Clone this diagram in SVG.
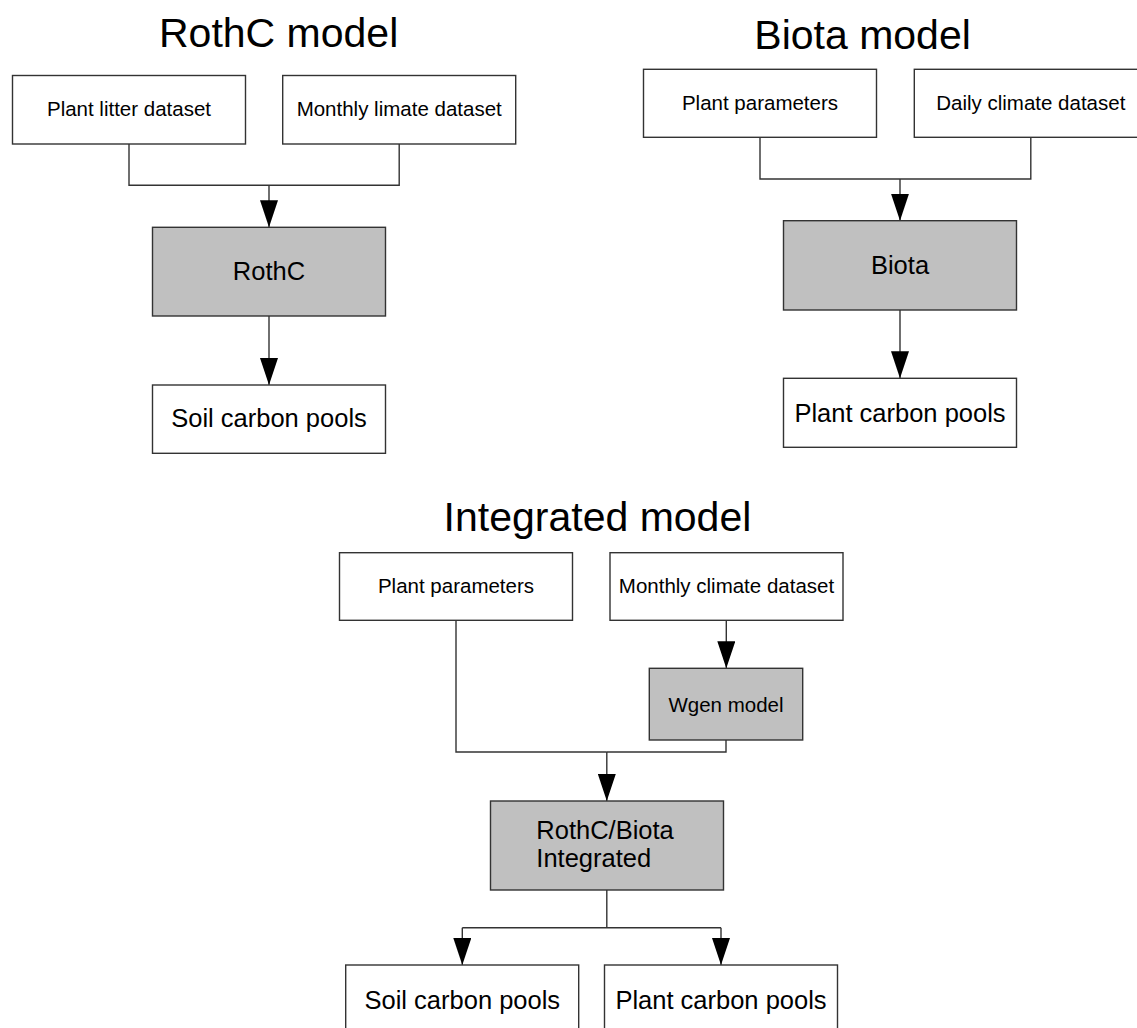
<svg xmlns="http://www.w3.org/2000/svg" width="1137" height="1028" viewBox="0 0 1137 1028">
<defs>
<style>
.box{fill:#ffffff;stroke:#333333;stroke-width:1.4}
.proc{fill:#c0c0c0;stroke:#333333;stroke-width:1.4}
.ln{fill:none;stroke:#333333;stroke-width:1.4}
.title{font-family:"Liberation Sans",Arial,sans-serif;font-size:41px;fill:#000}
.sm{font-family:"Liberation Sans",Arial,sans-serif;font-size:20.5px;fill:#000;text-anchor:middle}
.lg{font-family:"Liberation Sans",Arial,sans-serif;font-size:25.5px;fill:#000;text-anchor:middle}
.lgl{font-family:"Liberation Sans",Arial,sans-serif;font-size:25.5px;fill:#000}
</style>
<marker id="arr" markerUnits="userSpaceOnUse" markerWidth="27" markerHeight="18" refX="27" refY="9" orient="auto" viewBox="0 0 27 18">
<path d="M0,0 L27,9 L0,18 Z" fill="#000"/>
</marker>
</defs>
<rect width="1137" height="1028" fill="#ffffff"/>

<g id="titles">
<text class="title" x="159" y="46.7">RothC model</text>
<text class="title" x="754.3" y="49.3">Biota model</text>
<text class="title" x="443.6" y="531">Integrated model</text>
</g>

<g id="connectors">
<polyline class="ln" points="129,144 129,185.3 399.2,185.3 399.2,144"/>
<line class="ln" x1="269" y1="185.3" x2="269" y2="227.3" marker-end="url(#arr)"/>
<line class="ln" x1="269" y1="316" x2="269" y2="385" marker-end="url(#arr)"/>

<polyline class="ln" points="760,137.3 760,179 1030.8,179 1030.8,137.3"/>
<line class="ln" x1="900" y1="179" x2="900" y2="220.7" marker-end="url(#arr)"/>
<line class="ln" x1="900" y1="310" x2="900" y2="378.3" marker-end="url(#arr)"/>

<line class="ln" x1="726.3" y1="620.3" x2="726.3" y2="668.3" marker-end="url(#arr)"/>
<polyline class="ln" points="456,620.3 456,752 606.8,752"/>
<polyline class="ln" points="726,740 726,752 606.8,752"/>
<line class="ln" x1="606.8" y1="752" x2="606.8" y2="801" marker-end="url(#arr)"/>
<line class="ln" x1="606.8" y1="890" x2="606.8" y2="927.7"/>
<line class="ln" x1="462.3" y1="927.7" x2="721" y2="927.7"/>
<line class="ln" x1="462.3" y1="927.7" x2="462.3" y2="965" marker-end="url(#arr)"/>
<line class="ln" x1="721" y1="927.7" x2="721" y2="965" marker-end="url(#arr)"/>
</g>

<g id="rothc-plant-litter">
<rect class="box" x="12.5" y="75.5" width="233" height="68.5"/>
<text class="sm" x="129" y="115.7">Plant litter dataset</text>
</g>
<g id="rothc-monthly">
<rect class="box" x="282.7" y="75.5" width="233" height="68.5"/>
<text class="sm" x="399.2" y="115.7">Monthly limate dataset</text>
</g>
<g id="rothc">
<rect class="proc" x="152.5" y="227.3" width="233" height="88.7"/>
<text class="lg" x="269" y="280">RothC</text>
</g>
<g id="rothc-soil">
<rect class="box" x="152.5" y="385" width="233" height="68.3"/>
<text class="lg" x="269" y="427.3">Soil carbon pools</text>
</g>

<g id="biota-plant-params">
<rect class="box" x="643.5" y="69.3" width="233" height="68"/>
<text class="sm" x="760" y="110">Plant parameters</text>
</g>
<g id="biota-daily">
<rect class="box" x="914.3" y="69.3" width="233" height="68"/>
<text class="sm" x="1030.8" y="110">Daily climate dataset</text>
</g>
<g id="biota">
<rect class="proc" x="783.5" y="220.7" width="233" height="89.3"/>
<text class="lg" x="900" y="274">Biota</text>
</g>
<g id="biota-plant-pools">
<rect class="box" x="783.5" y="378.3" width="233" height="69"/>
<text class="lg" x="900" y="421.7">Plant carbon pools</text>
</g>

<g id="int-plant-params">
<rect class="box" x="339.5" y="552.7" width="233" height="67.6"/>
<text class="sm" x="456" y="593.3">Plant parameters</text>
</g>
<g id="int-monthly">
<rect class="box" x="610" y="552.7" width="233" height="67.6"/>
<text class="sm" x="726.5" y="593.3">Monthly climate dataset</text>
</g>
<g id="wgen">
<rect class="proc" x="649.3" y="668.3" width="153.4" height="71.7"/>
<text class="sm" x="726" y="711.7">Wgen model</text>
</g>
<g id="integrated">
<rect class="proc" x="490.5" y="801" width="233" height="89"/>
<text class="lgl" x="536.3" y="839.3">RothC/Biota</text>
<text class="lgl" x="536.3" y="867.3">Integrated</text>
</g>
<g id="int-soil">
<rect class="box" x="345.7" y="965" width="233" height="70"/>
<text class="lg" x="462.3" y="1008.5">Soil carbon pools</text>
</g>
<g id="int-plant-pools">
<rect class="box" x="604.5" y="965" width="233" height="70"/>
<text class="lg" x="721" y="1008.5">Plant carbon pools</text>
</g>
</svg>
